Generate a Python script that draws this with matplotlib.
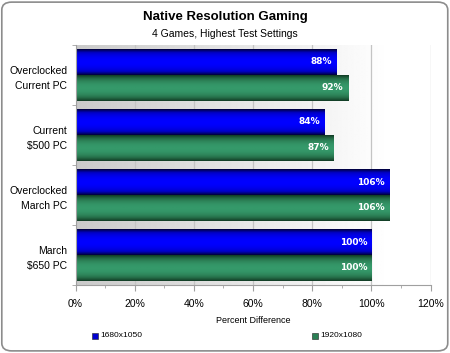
import numpy as np
import matplotlib.pyplot as plt
from matplotlib.colors import LinearSegmentedColormap
from matplotlib.patches import FancyBboxPatch, Rectangle
from matplotlib.ticker import MultipleLocator, FuncFormatter

plt.rcParams['font.family'] = ['Liberation Sans', 'DejaVu Sans']

categories = ["Overclocked\nCurrent PC", "Current\n$500 PC",
              "Overclocked\nMarch PC", "March\n$650 PC"]
res_1680 = [88, 84, 106, 100]
res_1920 = [92, 87, 106, 100]
series_names = ["1680x1050", "1920x1080"]

fig = plt.figure(figsize=(4.5, 3.53), dpi=100)
ax = fig.add_axes([0.1678, 0.1926, 0.789, 0.680])

# rounded frame round the whole chart
frame = FancyBboxPatch((0.004, 0.006), 0.991, 0.988,
                       boxstyle="round,pad=0,rounding_size=0.022",
                       transform=fig.transFigure, facecolor='none',
                       edgecolor='#8c8c8c', linewidth=1.2, zorder=-1)
fig.add_artist(frame)

# grey-to-white background of the plot area
bg = np.clip(0.79 + 0.21 * np.linspace(0, 1, 300) / 0.88, 0, 1)
ax.imshow(bg[np.newaxis, :], cmap='gray', vmin=0, vmax=1, aspect='auto',
          extent=(0, 1, 0, 1), transform=ax.transAxes, zorder=0)

blue_cmap = LinearSegmentedColormap.from_list('b', ['#00003c', '#0000c8', '#0000ff'])
green_cmap = LinearSegmentedColormap.from_list('g', ['#123d26', '#26704a', '#35996a'])
s = np.linspace(-1, 1, 40)
shade = (1 - np.abs(s) ** 2.2)[:, np.newaxis]

h = 0.433
y = np.arange(len(categories))
for i in range(len(categories)):
    for vals, cmap, y0 in ((res_1680, blue_cmap, y[i] - h),
                           (res_1920, green_cmap, y[i])):
        v = vals[i]
        ax.imshow(shade, cmap=cmap, vmin=0, vmax=1, aspect='auto',
                  extent=(0, v, y0 + h, y0), zorder=2, interpolation='bilinear')
        ax.text(v - 1.4, y0 + h / 2, f"{v}%", ha='right', va='center',
                color='white', fontweight='bold', fontsize=6.5,
                family='DejaVu Sans', zorder=3)

ax.set_xlim(0, 120)
ax.set_ylim(len(categories) - 0.5, -0.5)
ax.set_axisbelow(True)
ax.xaxis.set_major_locator(MultipleLocator(20))
ax.xaxis.set_minor_locator(MultipleLocator(10))
ax.xaxis.set_major_formatter(FuncFormatter(lambda x, p: f"{x:.0f}%"))
ax.grid(axis='x', color='#c4c4c4', linewidth=0.9)
ax.set_yticks(y)
ax.set_yticklabels(categories, fontsize=7.5, linespacing=1.6)
ax.set_yticks(np.arange(len(categories) + 1) - 0.5, minor=True)
ax.tick_params(axis='y', which='major', length=0, pad=6)
ax.tick_params(axis='y', which='minor', length=3, color='#a0a0a0')
ax.tick_params(axis='x', which='major', length=4, color='#a0a0a0',
               labelsize=7.5, pad=6)
ax.tick_params(axis='x', which='minor', length=2, color='#a0a0a0')
for side in ('top', 'right'):
    ax.spines[side].set_visible(False)
for side in ('left', 'bottom'):
    ax.spines[side].set_color('#a0a0a0')
ax.set_xlabel("Percent Difference", fontsize=6.5, labelpad=5)

fig.text(0.5, 0.953, "Native Resolution Gaming", ha='center', va='center',
         fontsize=9.5, fontweight='bold')
fig.text(0.5, 0.905, "4 Games, Highest Test Settings", ha='center',
         va='center', fontsize=7.5)

# legend
for name, col, x0 in ((series_names[0], '#0000d0', 0.204),
                      (series_names[1], '#2a8055', 0.693)):
    fig.add_artist(Rectangle((x0, 0.040), 0.0135, 0.017,
                             transform=fig.transFigure, facecolor=col,
                             edgecolor='#202020', linewidth=0.4))
    fig.text(x0 + 0.018, 0.049, name, ha='left', va='center', fontsize=6)

fig.savefig("out.png", dpi=100)
